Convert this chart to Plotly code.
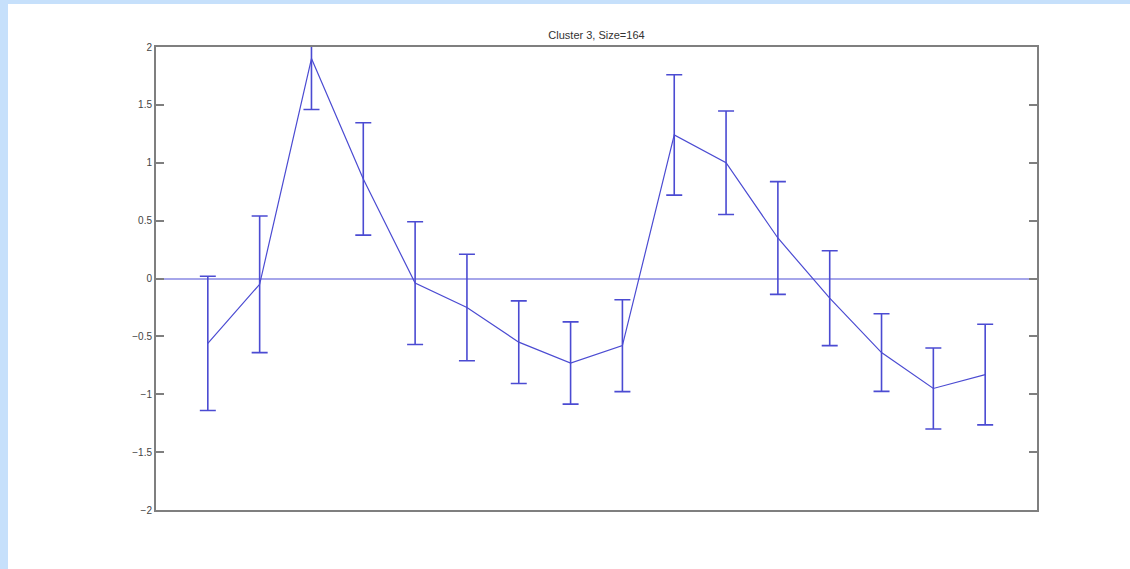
import plotly.graph_objects as go

# Cluster profile: mean expression per condition with ±1 std error bars
conditions = list(range(1, 17))
means = [-0.56, -0.05, 1.90, 0.86, -0.04, -0.25, -0.55, -0.73,
         -0.58, 1.24, 1.00, 0.35, -0.17, -0.64, -0.95, -0.83]
stds = [0.58, 0.59, 0.44, 0.485, 0.53, 0.46, 0.357, 0.355,
        0.397, 0.52, 0.447, 0.487, 0.41, 0.335, 0.35, 0.435]
y_ticks = [-2, -1.5, -1, -0.5, 0, 0.5, 1, 1.5, 2]
title_text = "Cluster 3, Size=164"

line_color = "#4b4bd2"
axis_color = "#7f7f7f"
band_color = "#c6e0fb"

fig = go.Figure()
fig.add_trace(go.Scatter(
    x=conditions,
    y=means,
    mode="lines",
    line=dict(color=line_color, width=1.2),
    error_y=dict(type="data", array=stds, visible=True,
                 color=line_color, thickness=1.6, width=8),
    showlegend=False,
    hoverinfo="x+y",
))

W, H = 1130, 569
ml, mr, mt, mb = 156, 93, 47, 59
pw, ph = W - ml - mr, H - mt - mb

fig.update_layout(
    width=W,
    height=H,
    margin=dict(l=ml, r=mr, t=mt, b=mb),
    paper_bgcolor="white",
    plot_bgcolor="white",
    title=dict(text=title_text, x=(ml + pw / 2) / W, xanchor="center",
               y=1 - 35 / H, yanchor="middle",
               font=dict(family="Liberation Sans, Arial, sans-serif",
                         size=11, color="#333333")),
    xaxis=dict(range=[0, 17], showticklabels=False, ticks="",
               showgrid=False, zeroline=False,
               showline=True, linecolor=axis_color, linewidth=2, mirror=True),
    yaxis=dict(range=[-2, 2], tickvals=y_ticks,
               ticks="inside", ticklen=8, tickwidth=2, tickcolor=axis_color,
               showgrid=False,
               zeroline=True, zerolinecolor="#a6a6ea", zerolinewidth=2,
               showline=True, linecolor=axis_color, linewidth=2, mirror="ticks",
               tickfont=dict(family="Liberation Sans, Arial, sans-serif",
                             size=10, color="#444444")),
    shapes=[
        # light blue frame strips along the top and left edges of the page
        dict(type="rect", xref="paper", yref="paper", layer="above",
             x0=-ml / pw, x1=(W - ml) / pw,
             y0=1 + (mt - 4) / ph, y1=1 + mt / ph,
             fillcolor=band_color, line=dict(width=0)),
        dict(type="rect", xref="paper", yref="paper", layer="above",
             x0=-ml / pw, x1=-(ml - 8) / pw,
             y0=-mb / ph, y1=1 + mt / ph,
             fillcolor=band_color, line=dict(width=0)),
    ],
)

fig.write_html("out.html")
